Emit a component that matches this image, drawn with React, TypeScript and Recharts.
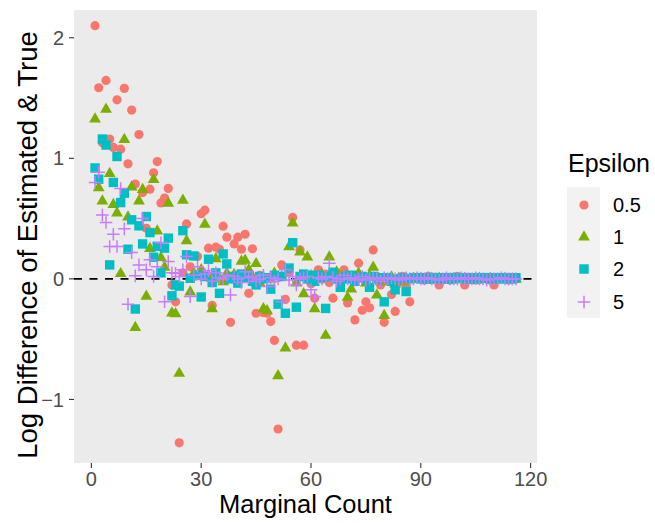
import React from 'react';
import { ScatterChart, Scatter, XAxis, YAxis, CartesianGrid, ReferenceLine, Legend } from 'recharts';

const FONT = '"Liberation Sans", Arial, Helvetica, sans-serif';

// Marginal counts (x categories)
const marginalCounts = Array.from({ length: 116 }, (_, i) => i + 1);

// Log difference of estimated & true, per epsilon (x = 1..116)
const eps05 = [
  2.10, 1.585, 1.13, 1.646, 1.16, 1.09, 1.485, 1.076, 1.58, 0.954,
  1.40, 0.786, 1.197, 0.716, 0.42, 0.744, 0.88, 0.973, 0.63, 0.67,
  0.75, -0.05, -0.19, -1.36, 0.05, 0.456, 0.10, 0.02, 0.185, 0.54,
  0.57, 0.255, -0.22, 0.263, 0.246, 0.437, 0.346, -0.36, 0.29, 0.346,
  0.246, 0.37, -0.12, 0.25, -0.285, 0.03, -0.28, -0.285, -0.354, -0.51,
  -1.245, 0.116, -0.17, 0.05, 0.51, -0.55, 0.24, -0.55, 0.02, -0.04,
  -0.16, 0.075, 0.0, 0.04, -0.03, -0.16, 0.05, -0.02, 0.075, -0.2,
  0.03, -0.34, 0.13, -0.26, -0.19, -0.24, 0.24, 0.02, -0.05, -0.36,
  -0.02, -0.13, -0.27, -0.03, 0.02, -0.06, -0.19, 0.01, 0.01, 0.0,
  -0.01, 0.02, 0.0, 0.01, -0.05, 0.0, 0.01, -0.01, 0.0, 0.02,
  0.0, -0.05, 0.01, 0.0, -0.01, 0.0, 0.01, 0.0, -0.01, -0.05,
  0.0, 0.01, 0.0, -0.01, 0.0, 0.0,
];
const eps1 = [
  1.33, 0.76, 0.65, 1.41, 0.877, 0.62, 0.55, 0.047, 1.16, 0.517,
  0.766, -0.40, 0.65, 0.744, -0.14, 0.255, 0.827, 0.40, 0.18, 0.10,
  0.63, -0.28, -0.285, -0.78, 0.656, 0.32, -0.105, 0.05, 0.02, 0.08,
  0.456, 0.03, -0.245, 0.17, 0.0, -0.02, 0.05, 0.01, 0.04, 0.03,
  0.15, 0.158, 0.08, 0.02, 0.13, -0.03, -0.245, -0.26, 0.0, 0.05,
  -0.80, 0.02, -0.57, 0.27, 0.467, -0.03, 0.227, -0.12, 0.185, 0.03,
  -0.245, 0.02, 0.04, -0.465, 0.185, 0.02, 0.06, 0.0, 0.04, -0.15,
  -0.08, 0.02, 0.05, 0.01, -0.03, 0.03, 0.10, -0.13, -0.02, -0.30,
  0.0, 0.02, -0.04, 0.01, -0.02, 0.01, 0.0, 0.01, 0.0, 0.01,
  0.0, -0.01, 0.01, 0.0, 0.01, 0.0, -0.01, 0.0, 0.01, 0.0,
  0.0, 0.01, 0.0, -0.01, 0.0, 0.01, 0.0, 0.0, 0.01, 0.0,
  0.0, 0.0, 0.01, 0.0, 0.0, 0.0,
];
const eps2 = [
  0.92, 0.827, 1.16, 1.11, 0.116, 0.80, 1.015, 0.633, 0.71, 0.246,
  0.49, -0.25, 0.44, 0.29, 0.517, 0.384, 0.18, 0.27, 0.05, 0.255,
  0.338, -0.14, -0.05, -0.06, 0.40, 0.2, 0.005, 0.19, 0.03, -0.15,
  0.02, 0.163, -0.03, 0.05, -0.12, 0.207, 0.124, 0.0, 0.02, -0.035,
  0.04, 0.01, 0.03, -0.02, -0.05, 0.02, 0.0, 0.01, -0.085, 0.03,
  -0.21, 0.02, -0.285, 0.09, 0.30, -0.235, 0.02, 0.04, 0.0, 0.03,
  -0.02, 0.03, 0.01, -0.245, 0.02, 0.055, 0.0, -0.07, 0.02, 0.0,
  0.03, -0.02, 0.01, 0.02, 0.0, -0.07, 0.02, 0.0, 0.01, -0.19,
  0.01, -0.02, -0.09, 0.0, 0.01, -0.105, 0.0, 0.01, 0.01, 0.0,
  0.01, 0.0, 0.01, 0.01, 0.0, 0.01, 0.0, 0.01, 0.0, 0.01,
  0.01, 0.0, 0.01, 0.0, 0.01, 0.0, 0.01, 0.01, 0.0, 0.01,
  0.0, 0.01, 0.0, 0.01, 0.0, 0.01,
];
const eps5 = [
  0.80, 0.885, 0.53, 0.467, 0.268, 0.37, 0.268, 0.75, 0.415, -0.21,
  0.218, 0.025, 0.116, 0.50, 0.075, 0.158, 0.02, 0.10, 0.30, -0.19,
  0.144, 0.05, 0.047, 0.02, 0.075, 0.185, -0.147, 0.03, 0.10, 0.0,
  0.04, 0.07, -0.02, 0.05, 0.01, 0.0, 0.03, -0.133, 0.02, 0.0,
  -0.03, 0.06, 0.01, 0.02, -0.02, 0.0, 0.03, -0.064, 0.01, -0.02,
  0.0, -0.19, 0.075, -0.01, 0.02, -0.05, 0.0, 0.01, 0.02, -0.09,
  -0.147, 0.01, 0.0, 0.02, 0.13, 0.01, -0.02, 0.0, 0.03, 0.0,
  0.01, -0.01, 0.0, 0.02, -0.01, 0.0, 0.01, 0.0, -0.02, 0.01,
  0.0, 0.01, 0.0, -0.01, 0.0, 0.01, 0.0, 0.0, 0.01, 0.0,
  0.0, 0.01, 0.0, 0.0, -0.01, 0.0, 0.01, 0.0, 0.0, 0.0,
  0.01, 0.0, 0.0, 0.0, 0.01, 0.0, 0.0, -0.01, 0.0, 0.0,
  0.0, 0.01, 0.0, 0.0, 0.0, 0.0,
];

const epsilonLabels = ['0.5', '1', '2', '5'];
const colors = ['#F8766D', '#7CAE00', '#00BFC4', '#C77CFF'];
const xTicks = [0, 30, 60, 90, 120];
const yTicks = [-1, 0, 1, 2];

const toPoints = (ys: number[]) => ys.map((y, i) => ({ x: marginalCounts[i], y }));
const seriesData = [eps05, eps1, eps2, eps5].map(toPoints);

const drawSymbol = (kind: number, cx: number, cy: number, color: string) => {
  if (kind === 0) return <circle cx={cx} cy={cy} r={4.6} fill={color} />;
  if (kind === 1)
    return (
      <polygon
        points={`${cx},${cy - 6.3} ${cx - 5.9},${cy + 3.9} ${cx + 5.9},${cy + 3.9}`}
        fill={color}
      />
    );
  if (kind === 2) return <rect x={cx - 4.7} y={cy - 4.7} width={9.4} height={9.4} fill={color} />;
  return (
    <path
      d={`M${cx - 6.3},${cy}H${cx + 6.3}M${cx},${cy - 6.3}V${cy + 6.3}`}
      stroke={color}
      strokeWidth={1.5}
      fill="none"
    />
  );
};

const makeShape = (kind: number) => (props: any) => {
  const { cx, cy } = props;
  if (cx == null || cy == null) return <g />;
  return drawSymbol(kind, cx, cy, colors[kind]);
};

const fmt = (v: number) => (v < 0 ? '\u2212' + Math.abs(v) : String(v));

const LegendBox = () => (
  <svg width={105} height={200} style={{ display: 'block' }}>
    <text x={18} y={32} fontSize={25} fontFamily={FONT} fill="#000">
      Epsilon
    </text>
    <rect x={17} y={47} width={33} height={131} fill="#F2F2F2" />
    {epsilonLabels.map((lab, i) => {
      const cy = [65, 96.5, 129, 162][i];
      return (
        <g key={lab}>
          {drawSymbol(i, 34, cy, colors[i])}
          <text x={63} y={cy} dy="0.36em" fontSize={20} fontFamily={FONT} fill="#000">
            {lab}
          </text>
        </g>
      );
    })}
  </svg>
);

export default function App() {
  return (
    <div style={{ position: 'absolute', left: 0, top: 0, width: 655, height: 523, background: '#fff' }}>
      <ScatterChart width={655} height={523} margin={{ top: 10, right: 118, bottom: 0, left: 0 }}>
        <CartesianGrid fill="#EBEBEB" stroke="none" horizontal={false} vertical={false} />
        <XAxis
          type="number"
          dataKey="x"
          domain={[-4.75, 121.75]}
          ticks={xTicks}
          allowDataOverflow
          height={60}
          axisLine={false}
          tickSize={5}
          tickMargin={4}
          tickLine={{ stroke: '#333333', strokeWidth: 1.1 }}
          tick={{ fill: '#4D4D4D', fontSize: 20, fontFamily: FONT }}
          label={{
            content: () => (
              <text x={305.5} y={513} textAnchor="middle" fontSize={25.5} fontFamily={FONT} fill="#000">
                Marginal Count
              </text>
            ),
          }}
        />
        <YAxis
          type="number"
          dataKey="y"
          domain={[-1.527, 2.23]}
          ticks={yTicks}
          allowDataOverflow
          width={74}
          axisLine={false}
          tickSize={5}
          tickMargin={5}
          tickLine={{ stroke: '#333333', strokeWidth: 1.1 }}
          tick={{ fill: '#4D4D4D', fontSize: 20, fontFamily: FONT }}
          tickFormatter={fmt}
          label={{
            content: () => (
              <text
                x={27}
                y={245}
                transform="rotate(-90 27 245)"
                textAnchor="middle"
                dy="0.36em"
                fontSize={27.5}
                fontFamily={FONT}
                fill="#000"
              >
                Log Difference of Estimated &amp; True
              </text>
            ),
          }}
        />
        {seriesData.map((d, i) => (
          <Scatter
            key={epsilonLabels[i]}
            name={epsilonLabels[i]}
            data={d}
            fill={colors[i]}
            shape={makeShape(i)}
            isAnimationActive={false}
          />
        ))}
        <ReferenceLine y={0} stroke="#000" strokeWidth={1.8} strokeDasharray="8 7.5" />
        <Legend
          layout="horizontal"
          verticalAlign="middle"
          align="center"
          content={() => <LegendBox />}
          wrapperStyle={{ position: 'absolute', left: 550, top: 140, width: 105, height: 200 }}
        />
      </ScatterChart>
    </div>
  );
}
